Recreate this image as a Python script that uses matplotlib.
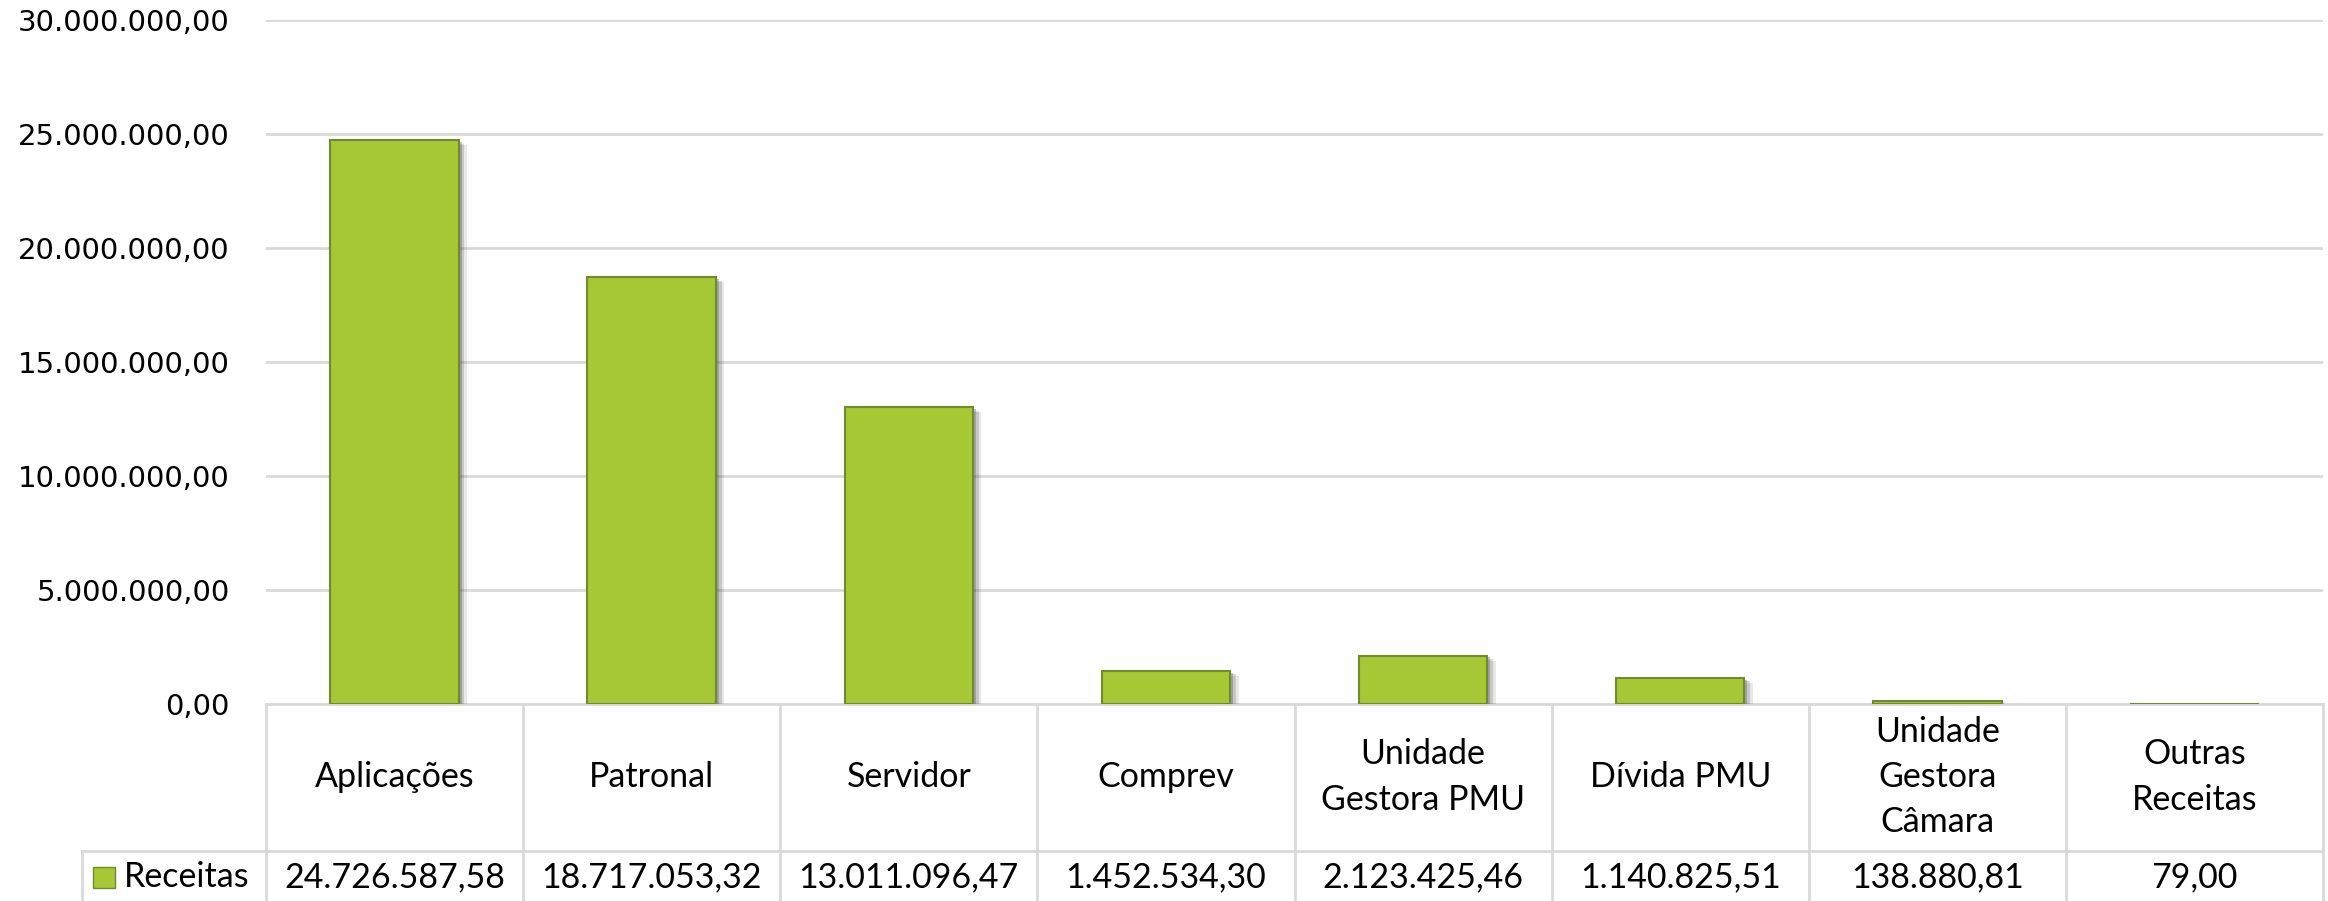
import matplotlib
matplotlib.use('Agg')
import matplotlib.pyplot as plt
import matplotlib.patheffects as pe
from matplotlib.patches import Rectangle
import numpy as np

categories = ['Aplicações', 'Patronal', 'Servidor', 'Comprev',
              'Unidade\nGestora PMU', 'Dívida PMU',
              'Unidade\nGestora\nCâmara', 'Outras\nReceitas']
receitas = [24726587.58, 18717053.32, 13011096.47, 1452534.30,
            2123425.46, 1140825.51, 138880.81, 79.00]
series_name = 'Receitas'
yticks = [0, 5e6, 10e6, 15e6, 20e6, 25e6, 30e6]

BAR = '#A6C834'
EDGE = '#6E8B2E'
GRID = '#D9D9D9'


def br(v):
    s = f'{v:,.2f}'
    return s.replace(',', 'X').replace('.', ',').replace('X', '.')


plt.rcParams['font.family'] = ['Lato', 'DejaVu Sans']
W, H = 2328, 901
fig = plt.figure(figsize=(W / 100, H / 100), dpi=100)
x0, x1, ytop, ybot = 266, 2323, 20, 704
ax = fig.add_axes([x0 / W, 1 - ybot / H, (x1 - x0) / W, (ybot - ytop) / H])

n = len(categories)
x = np.arange(n)
shadow = [pe.SimplePatchShadow(offset=(o, -o * 0.6), shadow_rgbFace='#444444', alpha=a)
          for o, a in [(6, 0.12), (4, 0.2), (2, 0.3)]]
ax.bar(x, receitas, width=0.5, color=BAR, edgecolor=EDGE, linewidth=1.5, zorder=3,
       path_effects=shadow + [pe.Normal()])
ax.set_xlim(-0.5, n - 0.5)
ax.set_ylim(0, 30e6)
ax.set_yticks(yticks)
ax.set_yticklabels([br(v) for v in yticks], fontsize=21, family='DejaVu Sans')
ax.tick_params(axis='y', length=0, pad=26)
ax.set_xticks([])
ax.yaxis.grid(True, color=GRID, linewidth=2, zorder=0)
for s in ax.spines.values():
    s.set_visible(False)

# data table below the plot, in axes coordinates
axh = ybot - ytop
axw = x1 - x0


def fy(py):
    return -(py - ybot) / axh


def fx(px):
    return (px - x0) / axw


row1 = fy(851)
bottom = fy(H + 10)
leg_left = fx(82)
kw = dict(transform=ax.transAxes, clip_on=False, color=GRID, linewidth=2, zorder=1)
ax.plot([0, 1], [0, 0], **kw)
ax.plot([leg_left, 1], [row1, row1], **kw)
for i in range(n + 1):
    ax.plot([i / n, i / n], [0, bottom], **kw)
ax.plot([leg_left, leg_left], [row1, bottom], **kw)

for i, (c, v) in enumerate(zip(categories, receitas)):
    xc = (i + 0.5) / n
    ax.text(xc, fy(777), c, transform=ax.transAxes, ha='center', va='center',
            fontsize=24.5, linespacing=1.5)
    ax.text(xc, fy(877), br(v), transform=ax.transAxes, ha='center', va='center',
            fontsize=24.5)

ax.add_patch(Rectangle((fx(93), fy(888)), 22 / axw, 21 / axh, transform=ax.transAxes,
                       facecolor=BAR, edgecolor=EDGE, linewidth=1, clip_on=False))
ax.text(fx(124), fy(877), series_name, transform=ax.transAxes,
        ha='left', va='center', fontsize=24.5)

fig.savefig('out.png', dpi=100, facecolor='white')
